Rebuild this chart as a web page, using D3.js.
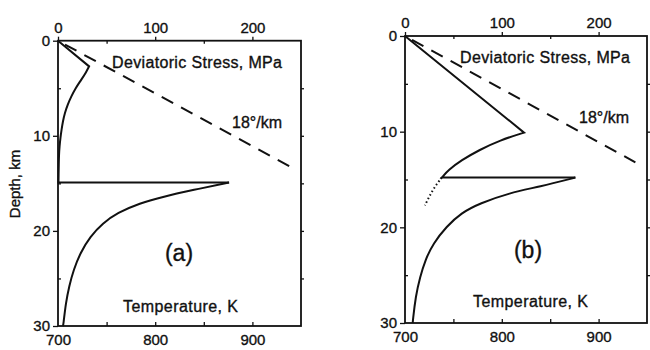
<!DOCTYPE html>
<html>
<head>
<meta charset="utf-8">
<script src="https://cdn.jsdelivr.net/npm/d3@7"></script>
<style>
  body { margin: 0; background: #fff; }
  svg text { font-family: "Liberation Sans", Arial, sans-serif; fill: #111; stroke: #111; stroke-width: 0.35; }
</style>
</head>
<body>
<div id="chart"></div>
<script>
// axis ticks
const depthTicks = [0, 10, 20, 30];
const stressTicks = [0, 100, 200];
const tempTicks = [700, 800, 900];

// dashed geotherm, 18 deg/km (same in both panels)
const geoDepth = [0, 13.2];
const geoTemp = [700, 938];

// panel (a): stress profile, MPa (peak, then decay down to the fault)
const stressADepth = [0, 2.7, 3.3, 4.1, 5, 5.9, 6.7, 7.6, 8.5, 9.4, 10.2, 11.1, 12, 13, 14, 14.9, 14.9];
const stressAVal   = [0, 32, 29, 24, 18, 13.5, 10, 7, 5, 3.6, 2.5, 1.6, 1, 0.8, 0.6, 0.5, 176];
// panel (a): temperature below the fault, K
const tempADepth = [14.9, 15.7, 16.4, 17.1, 18.1, 19.2, 20.6, 22.3, 24.1, 25.8, 27.6, 29.9, 30];
const tempAVal   = [876, 839, 808, 784, 761, 746, 733, 723, 716, 711.5, 708, 705.5, 705];

// panel (b)
const stressBDepth = [0, 10.1, 10.9, 11.9, 13, 14, 14.8, 14.8];
const stressBVal   = [0, 123, 98, 77, 58, 45, 38, 176];
const dotBDepth = [14.8, 15.7, 16.8, 17.7];
const dotBVal   = [38, 31, 25, 20.6];
const tempBDepth = [14.8, 15.75, 16.4, 17.5, 18.5, 19.9, 21.7, 23.4, 25.2, 27.2, 29.85, 30];
const tempBVal   = [876, 839, 808, 777, 758, 743, 729, 721, 715.5, 711, 708, 708];

const svg = d3.select("#chart").append("svg")
  .attr("width", 650)
  .attr("height", 350);

function zip(depths, vals) {
  return depths.map((d, i) => [vals[i], d]);
}

function drawPanel(opt) {
  const x = d3.scaleLinear().domain([0, 250]).range([opt.left, opt.right]);
  const xT = d3.scaleLinear().domain([700, 950]).range([opt.left, opt.right]);
  const y = d3.scaleLinear().domain([0, 30]).range([opt.top, opt.bottom]);
  const g = svg.append("g");

  // axes
  g.append("g")
    .attr("transform", `translate(0,${opt.top})`)
    .call(d3.axisTop(x).tickValues(stressTicks).tickSize(4).tickPadding(4));
  g.append("g")
    .attr("transform", `translate(0,${opt.top})`)
    .call(d3.axisBottom(x).tickValues([50, 150]).tickSize(3).tickFormat(""));
  g.append("g")
    .attr("transform", `translate(0,${opt.bottom})`)
    .call(d3.axisTop(xT).tickValues([750, 800, 850, 900]).tickSize(4).tickFormat(""));
  g.append("g")
    .attr("transform", `translate(0,${opt.bottom})`)
    .call(d3.axisBottom(xT).tickValues(tempTicks).tickSize(0).tickPadding(8));
  g.append("g")
    .attr("transform", `translate(${opt.left},0)`)
    .call(d3.axisLeft(y).tickValues(depthTicks).tickSize(5).tickPadding(3));
  g.append("g")
    .attr("transform", `translate(${opt.left},0)`)
    .call(d3.axisRight(y).tickValues([5, 15, 25]).tickSize(3).tickFormat(""));
  g.append("g")
    .attr("transform", `translate(${opt.right},0)`)
    .call(d3.axisRight(y).tickValues([5, 10, 15, 20, 25]).tickSize(3).tickFormat(""));

  g.selectAll(".domain").remove();
  g.selectAll(".tick line").attr("stroke", "#111").attr("stroke-width", 1.3);
  g.selectAll(".tick text").attr("font-size", 15).attr("fill", "#111");

  // frame
  g.append("rect")
    .attr("x", opt.left).attr("y", opt.top)
    .attr("width", opt.right - opt.left).attr("height", opt.bottom - opt.top)
    .attr("fill", "none").attr("stroke", "#111").attr("stroke-width", 1.8);

  const lineS = d3.line().x(d => x(d[0])).y(d => y(d[1]));
  const lineT = d3.line().x(d => xT(d[0])).y(d => y(d[1]));
  const lineTc = d3.line().x(d => xT(d[0])).y(d => y(d[1])).curve(d3.curveBasis);
  const lineSc = d3.line().x(d => x(d[0])).y(d => y(d[1])).curve(d3.curveBasis);

  g.append("path")
    .attr("d", lineT(zip(geoDepth, geoTemp)))
    .attr("fill", "none").attr("stroke", "#111").attr("stroke-width", 2)
    .attr("stroke-dasharray", "13,9").attr("stroke-dashoffset", -8);

  opt.stress.forEach(s => {
    const pts = zip(s.depth, s.val);
    // straight legs stay straight; the decaying part is smoothed
    g.append("path")
      .attr("d", lineS(pts.slice(0, s.kink + 1)) + lineSc(pts.slice(s.kink, s.curveEnd + 1)).replace(/^M/, "L") +
        lineS(pts.slice(s.curveEnd)).replace(/^M/, "L"))
      .attr("fill", "none").attr("stroke", "#111").attr("stroke-width", 2)
      .attr("stroke-linejoin", "miter");
  });

  if (opt.dots) {
    g.append("path")
      .attr("d", lineSc(zip(opt.dots.depth, opt.dots.val)))
      .attr("fill", "none").attr("stroke", "#111").attr("stroke-width", 2)
      .attr("stroke-dasharray", "1.5,2.5");
  }

  g.append("path")
    .attr("d", lineTc(zip(opt.temp.depth, opt.temp.val)))
    .attr("fill", "none").attr("stroke", "#111").attr("stroke-width", 2);

  // labels
  g.append("text").attr("x", opt.stressLabel[0]).attr("y", opt.stressLabel[1])
    .attr("font-size", 16).attr("textLength", 170).text("Deviatoric Stress, MPa");
  g.append("text").attr("x", opt.gradLabel[0]).attr("y", opt.gradLabel[1])
    .attr("font-size", 16).text("18°/km");
  g.append("text").attr("x", opt.tempLabel[0]).attr("y", opt.tempLabel[1])
    .attr("font-size", 16).attr("textLength", 115).text("Temperature, K");
  g.append("text").attr("x", opt.panelLabel[0]).attr("y", opt.panelLabel[1])
    .attr("font-size", 23).attr("text-anchor", "middle").text(opt.name);
}

drawPanel({
  left: 58, right: 301, top: 40.7, bottom: 326,
  stress: [{ depth: stressADepth, val: stressAVal, kink: 1, curveEnd: 15 }],
  temp: { depth: tempADepth, val: tempAVal },
  stressLabel: [112, 68], gradLabel: [232, 128], tempLabel: [123, 312], panelLabel: [179, 261],
  name: "(a)"
});

drawPanel({
  left: 405, right: 647, top: 36, bottom: 323,
  stress: [{ depth: stressBDepth, val: stressBVal, kink: 1, curveEnd: 6 }],
  dots: { depth: dotBDepth, val: dotBVal },
  temp: { depth: tempBDepth, val: tempBVal },
  stressLabel: [460, 63], gradLabel: [579, 123], tempLabel: [473, 307], panelLabel: [528, 258],
  name: "(b)"
});

// shared y label
svg.append("text")
  .attr("transform", "translate(20,184) rotate(-90)")
  .attr("text-anchor", "middle")
  .attr("font-size", 15)
  .text("Depth, km");
</script>
</body>
</html>
